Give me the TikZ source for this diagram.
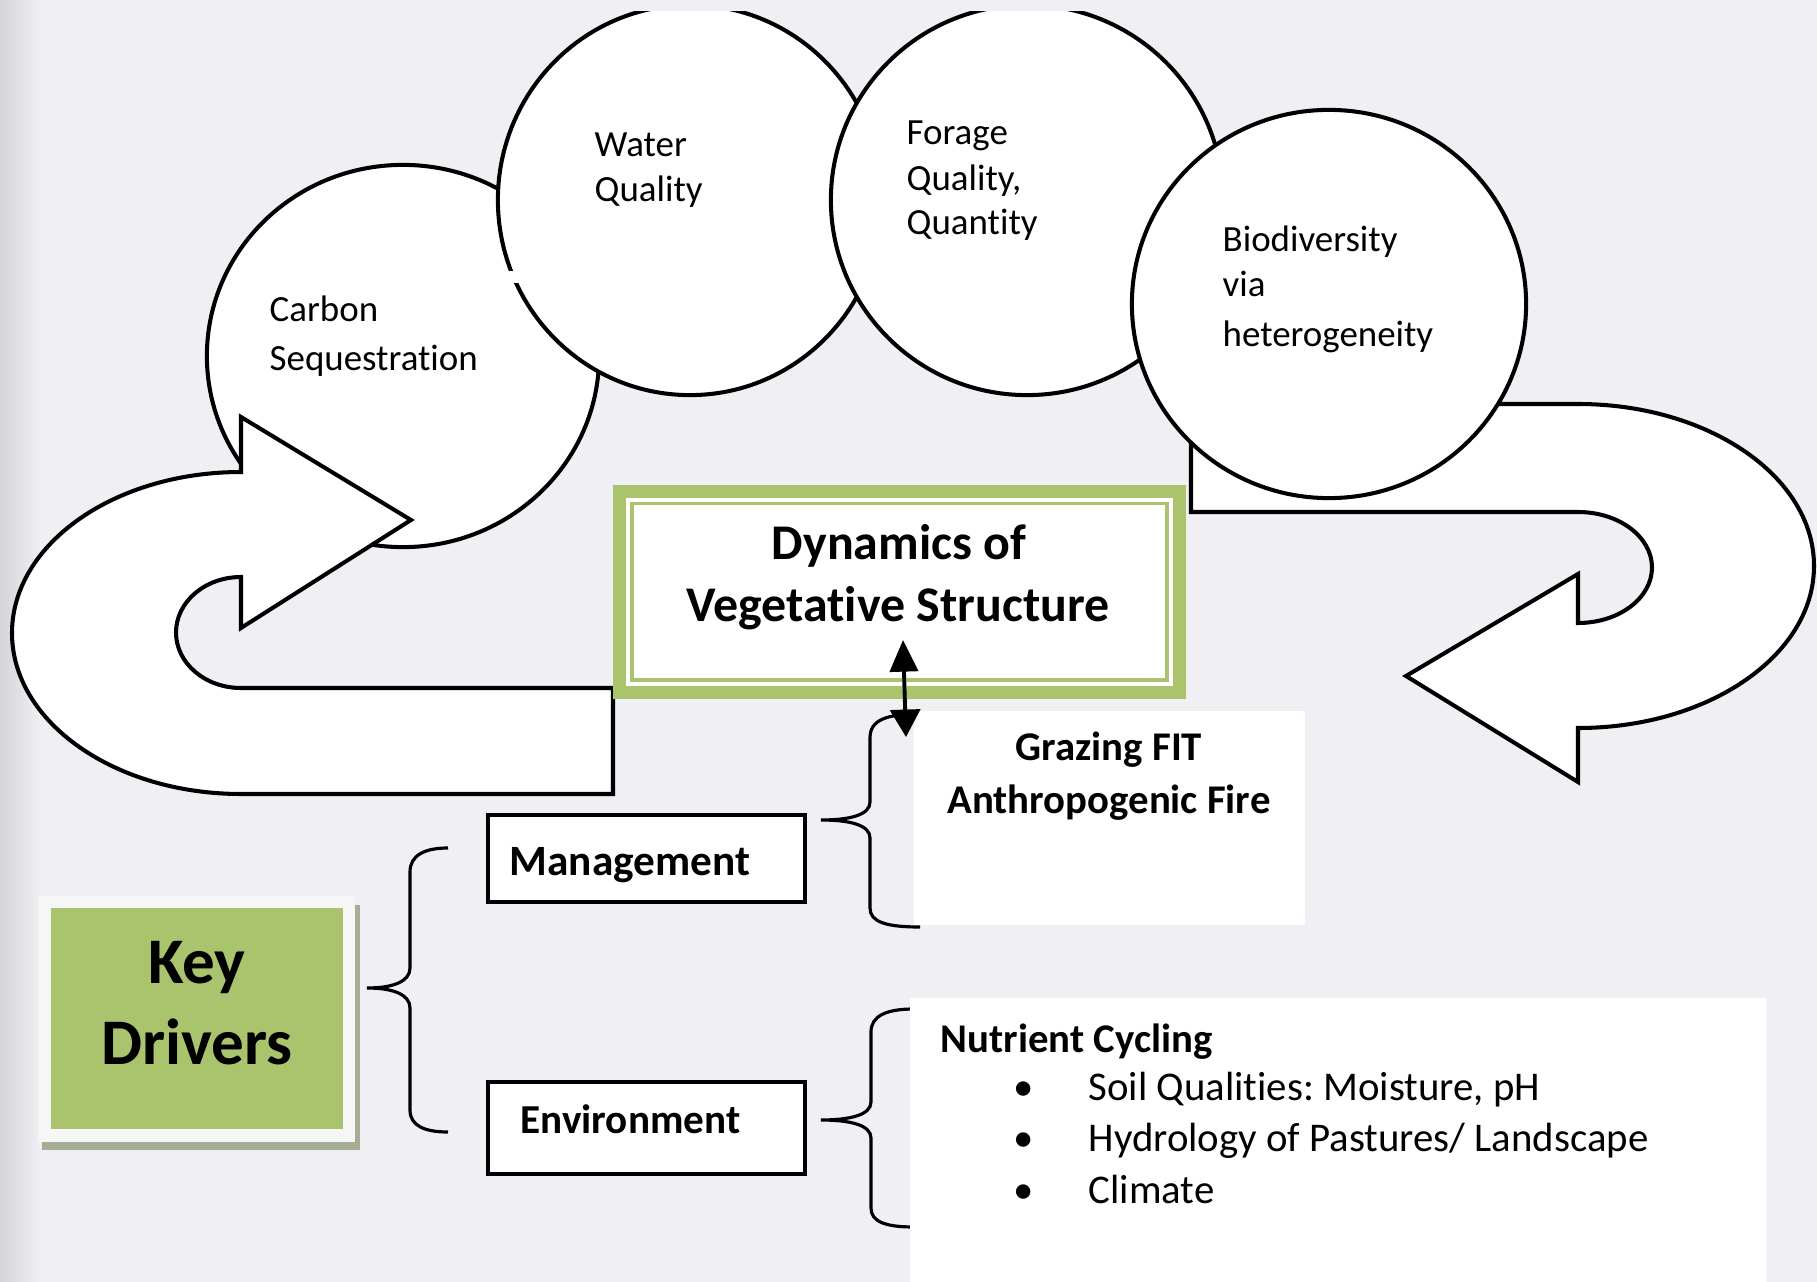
\documentclass[tikz,border=0pt]{standalone}
\usepackage{fontspec}
\setmainfont{Carlito}[Ligatures=NoCommon]
\frenchspacing
\usetikzlibrary{shapes.geometric,arrows.meta}

\definecolor{bgcol}{RGB}{239,239,244}
\definecolor{bgedge}{RGB}{212,212,217}
\definecolor{leaf}{RGB}{170,196,110}
\definecolor{dropshade}{RGB}{165,173,148}
\definecolor{paleframe}{RGB}{246,246,246}

\tikzset{
  outline/.style={draw=black, line width=1.15pt, fill=white, line join=miter},
  bubble/.style={ellipse, outline, inner sep=0pt},
  bubbletext/.style={anchor=base west, inner sep=0pt, font=\fontsize{10.5}{12}\selectfont},
  titletext/.style={anchor=base, inner sep=0pt, font=\bfseries\fontsize{14.2}{16}\selectfont},
  grazetext/.style={anchor=base, inner sep=0pt, font=\bfseries\fontsize{11.6}{14}\selectfont},
  labelbox/.style={draw=black, line width=1.15pt, fill=white, inner sep=0pt},
  plainpanel/.style={fill=white, inner sep=0pt},
  bracket/.style={draw=black, line width=0.9pt},
  listtext/.style={anchor=base west, inner sep=0pt, font=\fontsize{11.6}{14}\selectfont},
}

\begin{document}
\begin{tikzpicture}[x=0.01cm, y=-0.01cm]
\useasboundingbox (0,0) rectangle (1817,1282);

% page background with darker left margin
\fill[bgcol] (0,0) rectangle (1817,1282);
\shade[left color=bgedge, right color=bgcol] (0,0) rectangle (40,1282);

% ---- cycle of services: bubbles and curved arrows ----
\begin{scope}
  \clip (0,12) rectangle (1817,1282);
  \node[bubble, minimum width=3.92cm, minimum height=3.82cm] (carbon) at (403,356) {};
  % left U-turn arrow pointing into the carbon bubble
  \draw[outline] (613,688) -- (241,688)
     arc[start angle=90, end angle=270, x radius=65, y radius=55.5]
     -- (241,628) -- (411,520) -- (241,417) -- (241,472)
     arc[start angle=270, end angle=90, x radius=229, y radius=161]
     -- (613,794) -- cycle;
  \node[bubble, minimum width=3.84cm, minimum height=3.90cm] (water) at (690,200) {};
  \fill[white] (508,271) rectangle (518,283);
  \node[bubble, minimum width=3.92cm, minimum height=3.90cm] (forage) at (1027,200) {};
  % right U-turn arrow pointing back to the left
  \draw[outline] (1191,404) -- (1578,404)
     arc[start angle=-90, end angle=90, x radius=236, y radius=162]
     -- (1578,782) -- (1406,676) -- (1578,574) -- (1578,623)
     arc[start angle=90, end angle=-90, x radius=74, y radius=55.5]
     -- (1191,512) -- cycle;
  \node[bubble, minimum width=3.94cm, minimum height=3.88cm] (biodiv) at (1329,304) {};
\end{scope}

% bubble labels
\node[bubbletext] (carbonA) at (269,321) {Carbon};
\node[bubbletext] (carbonB) at (269,370) {Sequestration};
\node[bubbletext] (waterA) at (594,157) {Water};
\node[bubbletext] (waterB) at (594,202) {Quality};
\node[bubbletext] (forageA) at (906,145) {Forage};
\node[bubbletext] (forageB) at (906,191) {Quality,};
\node[bubbletext] (forageC) at (906,235) {Quantity};
\node[bubbletext] (biodivA) at (1222,252) {Biodiversity};
\node[bubbletext] (biodivB) at (1222,297) {via};
\node[bubbletext] (biodivC) at (1222,347) {heterogeneity};

% ---- central box: green double frame ----
\node[fill=leaf, minimum width=5.73cm, minimum height=2.14cm, inner sep=0pt] (dyn) at (899.5,592) {};
\node[fill=white, minimum width=5.47cm, minimum height=1.88cm, inner sep=0pt] (dynpane) at (dyn.center) {};
\node[draw=leaf, line width=1.1pt, minimum width=5.345cm, minimum height=1.765cm, inner sep=0pt] (dynrule) at (899.75,591.75) {};
\node[titletext] (dynA) at (899,559) {Dynamics of};
\node[titletext] (dynB) at (898,621) {Vegetative Structure};

% ---- braces ----
\draw[bracket] (448,848) .. controls (425,848) and (410,855) .. (410,872)
   -- (410,968) .. controls (410,982) and (392,988) .. (367,988)
   .. controls (392,988) and (410,994) .. (410,1008)
   -- (410,1110) .. controls (410,1126) and (425,1132) .. (448,1132);
\draw[bracket] (920,714) .. controls (886,714) and (870,720) .. (870,738)
   -- (870,802) .. controls (870,815) and (850,820) .. (821,820)
   .. controls (850,820) and (870,825) .. (870,838)
   -- (870,908) .. controls (870,922) and (886,927) .. (920,927);
\draw[bracket] (914,1009) .. controls (886,1009) and (871,1016) .. (871,1032)
   -- (871,1102) .. controls (871,1115) and (850,1120) .. (821,1120)
   .. controls (850,1120) and (871,1125) .. (871,1138)
   -- (871,1208) .. controls (871,1222) and (886,1227) .. (914,1227);

% ---- management panel ----
\node[plainpanel, minimum width=3.91cm, minimum height=2.14cm] (graze) at (1109.5,818) {};
\node[grazetext] (grazeA) at (1109,760) {Grazing FIT};
\node[grazetext] (grazeB) at (1109,813) {Anthropogenic Fire};

% ---- environment panel ----
\node[plainpanel, minimum width=8.56cm, minimum height=2.92cm] (nutri) at (1338,1144) {};
\node[listtext, font=\bfseries\fontsize{11.6}{14}\selectfont] (nutriA) at (940,1052) {Nutrient Cycling};
\node[anchor=base, inner sep=0pt, font=\fontsize{11.6}{14}\selectfont] (dotA) at (1024,1100) {•};
\node[anchor=base, inner sep=0pt, font=\fontsize{11.6}{14}\selectfont] (dotB) at (1024,1151) {•};
\node[anchor=base, inner sep=0pt, font=\fontsize{11.6}{14}\selectfont] (dotC) at (1024,1203) {•};
\node[listtext] (itemA) at (1088,1100) {Soil Qualities: Moisture, pH};
\node[listtext] (itemB) at (1088,1151) {Hydrology of Pastures/ Landscape};
\node[listtext] (itemC) at (1088,1203) {Climate};

% ---- driver boxes ----
\node[labelbox, minimum width=3.17cm, minimum height=0.87cm] (mgmt) at (646.5,858.5) {};
\node[anchor=base west, inner sep=0pt, font=\bfseries\fontsize{12.3}{14}\selectfont] (mgmtA) at (509,875) {Management};
\node[labelbox, minimum width=3.17cm, minimum height=0.92cm] (env) at (646.5,1128) {};
\node[anchor=base west, inner sep=0pt, font=\bfseries\fontsize{11.7}{14}\selectfont] (envA) at (520,1133) {Environment};

% ---- key drivers tile ----
\fill[dropshade] (42,905) rectangle (360,1150);
\node[fill=paleframe, minimum width=3.17cm, minimum height=2.46cm, inner sep=0pt] (keyframe) at (196.5,1019) {};
\node[fill=leaf, minimum width=2.92cm, minimum height=2.21cm, inner sep=0pt] (keybox) at (197,1018.5) {};
\node[anchor=base, inner sep=0pt, font=\bfseries\fontsize{18.5}{22}\selectfont] (keyA) at (197,983) {Key};
\node[anchor=base, inner sep=0pt, font=\bfseries\fontsize{18.5}{22}\selectfont] (keyB) at (197,1064) {Drivers};

% ---- two-way link between structure and management ----
\coordinate (dynlink) at (903,640);
\coordinate (grazelink) at (906,737);
\draw[line width=1.1pt, {Triangle[length=9pt,width=8pt]}-{Triangle[length=7.8pt,width=8.5pt]}] (dynlink) -- (grazelink);

\end{tikzpicture}
\end{document}
